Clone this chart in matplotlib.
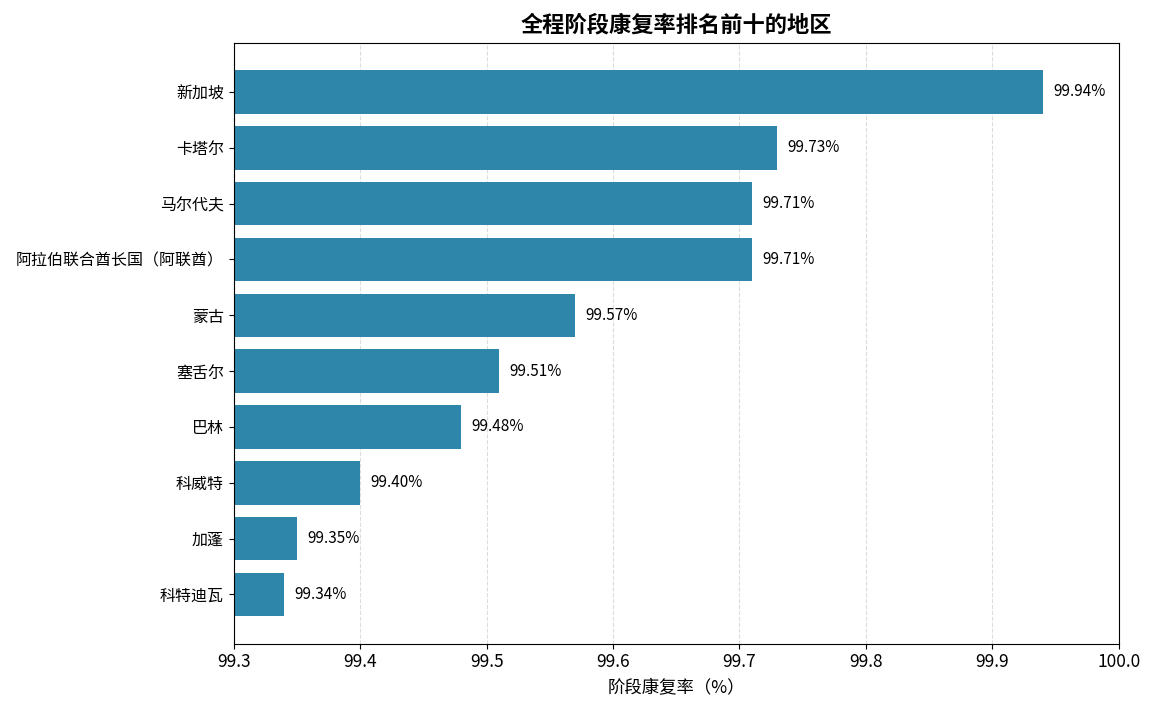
import matplotlib.pyplot as plt

plt.rcParams['font.family'] = ['Noto Sans CJK SC', 'DejaVu Sans']
plt.rcParams['axes.unicode_minus'] = False

regions = ['新加坡', '卡塔尔', '马尔代夫', '阿拉伯联合酋长国（阿联酋）', '蒙古',
           '塞舌尔', '巴林', '科威特', '加蓬', '科特迪瓦']
rates = [99.94, 99.73, 99.71, 99.71, 99.57, 99.51, 99.48, 99.40, 99.35, 99.34]

fig, ax = plt.subplots(figsize=(11.57, 7.15), dpi=100)
fig.subplots_adjust(left=0.202, right=0.967, top=0.94, bottom=0.1)

# top rank first
bars = ax.barh(regions[::-1], rates[::-1], height=0.78, color='#2E86AB')
for b, v in zip(bars, rates[::-1]):
    ax.text(v + 0.008, b.get_y() + b.get_height() / 2, f'{v:.2f}%',
            va='center', ha='left', fontsize=11)

ax.set_xlim(99.3, 100.0)
ax.set_xticks([99.3, 99.4, 99.5, 99.6, 99.7, 99.8, 99.9, 100.0])
ax.tick_params(axis='x', labelsize=12.5)
ax.tick_params(axis='y', labelsize=11.5)
ax.grid(axis='x', linestyle='--', alpha=0.5, color='#bbbbbb')
ax.set_axisbelow(True)
ax.set_xlabel('阶段康复率（%）', fontsize=12.5, labelpad=6)
ax.set_title('全程阶段康复率排名前十的地区', fontsize=16, fontweight='bold', pad=8)

fig.savefig('out.png')
